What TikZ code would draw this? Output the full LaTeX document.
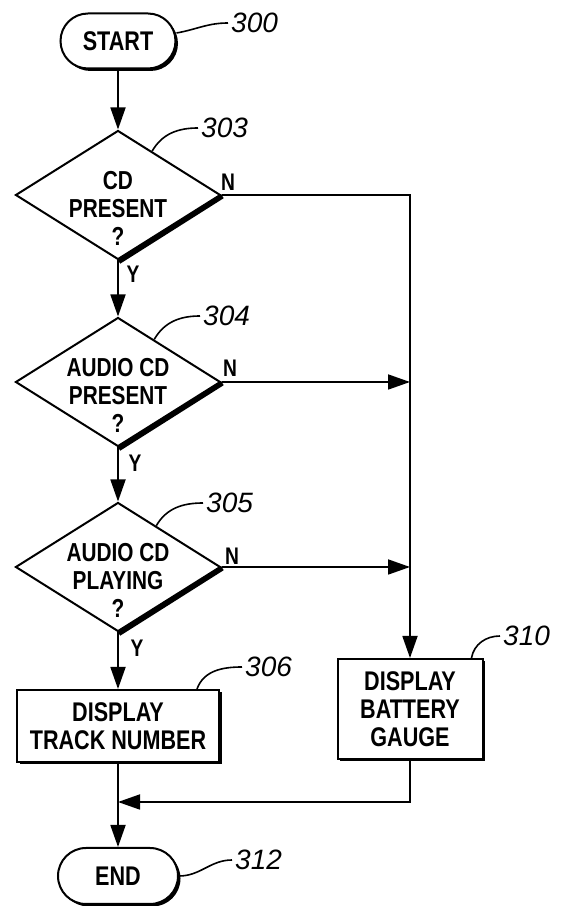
\documentclass[tikz,border=0pt]{standalone}
\usepackage{fontspec}
\setmainfont{Liberation Sans}
\newfontfamily\chartfont{Liberation Sans}[FakeStretch=0.8]
\usetikzlibrary{arrows.meta,positioning,shapes.geometric,shapes.misc,shadows,calc}

\tikzset{
  flow/.style={line width=1.8pt, -{Triangle[length=22pt,width=15pt]}},
  wire/.style={line width=1.8pt},
  leader/.style={line width=1.6pt},
  edgeshade/.style={line width=4.5pt},
  boxshadow/.style={drop shadow={shadow xshift=2.5pt, shadow yshift=-2.5pt, fill=black, opacity=1}},
  term/.style={rounded rectangle, draw, line width=2pt, fill=white, boxshadow,
    minimum width=115pt, minimum height=55pt, inner sep=0pt,
    font=\chartfont\bfseries\fontsize{27}{28}\selectfont},
  process/.style={rectangle, draw, line width=2pt, fill=white, boxshadow, inner sep=0pt,
    align=center, font=\chartfont\bfseries\fontsize{27}{28}\selectfont},
  decision/.style={diamond, draw, line width=2pt, minimum width=205pt, minimum height=129pt, inner sep=0pt},
  qtext/.style={align=center, inner sep=0pt, font=\chartfont\bfseries\fontsize{26}{28}\selectfont},
  branch/.style={inner sep=0pt, font=\chartfont\bfseries\fontsize{24}{26}\selectfont},
  refnum/.style={anchor=west, inner sep=3pt, font=\itshape\fontsize{28}{30}\selectfont}
}

\begin{document}
\begin{tikzpicture}[x=1pt, y=1pt]
    \useasboundingbox (0,0) rectangle (571,906);

    % main column
    \node[term] (start) at (118,865) {START};
    \node[decision] (d303) at (118,711) {};
    \node[qtext] (q303) at ([yshift=-13pt]d303.center) {CD\\PRESENT\\?};
    \node[decision] (d304) at (118,524) {};
    \node[qtext] (q304) at ([yshift=-13pt]d304.center) {AUDIO CD\\PRESENT\\?};
    \node[decision] (d305) at (118,339) {};
    \node[qtext] (q305) at ([yshift=-13pt]d305.center) {AUDIO CD\\PLAYING\\?};
    \node[process, minimum width=202pt, minimum height=72pt] (b306) at (118,180) {DISPLAY\\TRACK NUMBER};
    \node[term, minimum width=120pt, minimum height=56pt] (stop) at (118,30) {END};

    % right column
    \node[process, minimum width=145pt, minimum height=100pt] (b310) at (410,197) {DISPLAY\\BATTERY\\GAUGE};

    % thick lower right edges of the diamonds
    \foreach \d in {d303,d304,d305}
      \draw[edgeshade] ([shift={(1pt,-1.3pt)}]\d.east) -- ([shift={(1pt,-1.3pt)}]\d.south);

    % reference numerals
    \node[refnum] (n300) at (228,883) {300};
    \node[refnum] (n303) at (198,778) {303};
    \node[refnum] (n304) at (200,590) {304};
    \node[refnum] (n305) at (203,403) {305};
    \node[refnum] (n306) at (242,239) {306};
    \node[refnum] (n310) at (500,270) {310};
    \node[refnum] (n312) at (232,46) {312};

    \draw[leader] ([yshift=8pt]start.east) to[out=10,in=180] (n300.west);
    \draw[leader] ($(d303.north)!0.33!(d303.east)$) to[out=60,in=180] (n303.west);
    \draw[leader] ($(d304.north)!0.35!(d304.east)$) to[out=60,in=180] (n304.west);
    \draw[leader] ($(d305.north)!0.37!(d305.east)$) to[out=60,in=180] (n305.west);
    \draw[leader] ([xshift=-23pt]b306.north east) to[out=70,in=180] (n306.west);
    \draw[leader] ([xshift=-12pt]b310.north east) to[out=80,in=180] (n310.west);
    \draw[leader] (stop.east) to[out=0,in=180] (n312.west);

    % branch labels
    \node[branch] (N303) at (228,724) {N};
    \node[branch] (Y303) at (133,632) {Y};
    \node[branch] (N304) at (230,538) {N};
    \node[branch] (Y304) at (135,443) {Y};
    \node[branch] (N305) at (232,350) {N};
    \node[branch] (Y305) at (137,258) {Y};

    % connectors
    \draw[flow] (start.south) -- (d303.north);
    \draw[flow] (d303.south) -- (d304.north);
    \draw[flow] (d304.south) -- (d305.north);
    \draw[flow] (d305.south) -- (b306.north);
    \draw[flow] (d303.east) -| (b310.north);
    \draw[flow] (d304.east) -- (d304.east -| b310.north);
    \draw[flow] (d305.east) -- (d305.east -| b310.north);
    \coordinate (join) at (118,104);
    \draw[flow] (b310.south) |- (join);
    \draw[flow] (b306.south) -- (stop.north);
\end{tikzpicture}
\end{document}
